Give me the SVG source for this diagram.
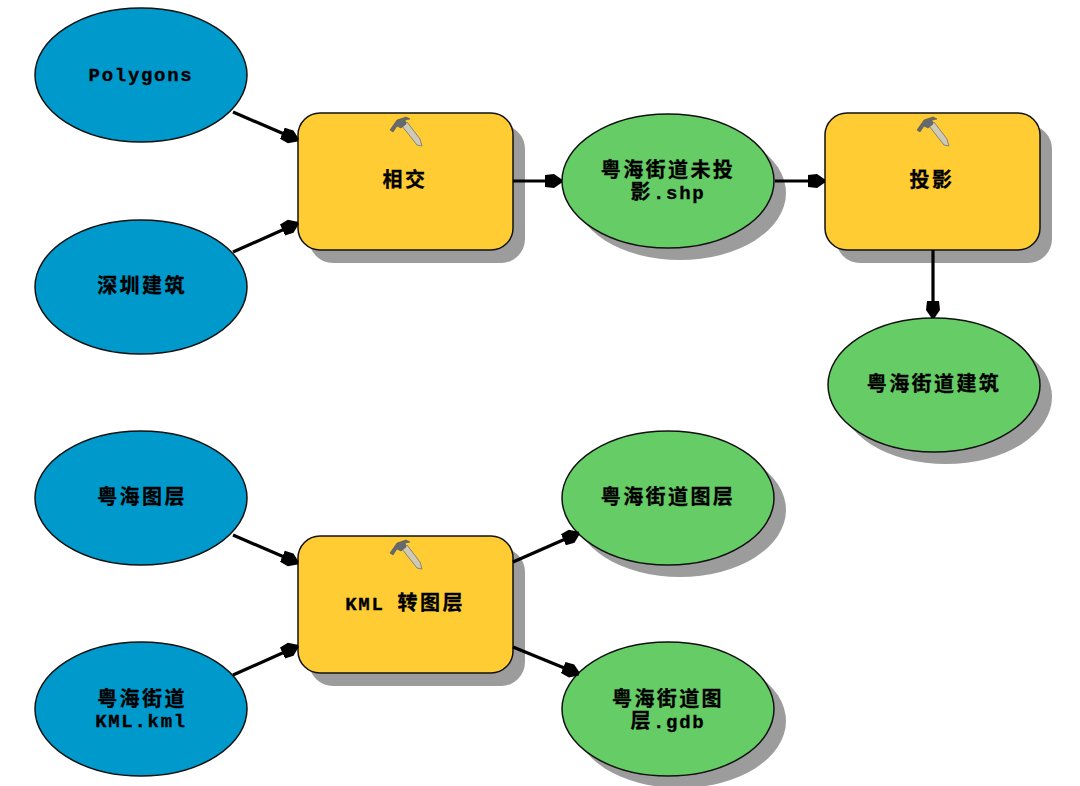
<svg xmlns="http://www.w3.org/2000/svg" xmlns:xlink="http://www.w3.org/1999/xlink" width="1080" height="786" viewBox="0 0 1080 786">
<style>
.in{fill:#0099cc;stroke:#111;stroke-width:1.5}
.out{fill:#66cc66;stroke:#111;stroke-width:1.5}
.tool{fill:#ffcc33;stroke:#111;stroke-width:1.5}
.sh{fill:#9c9c9c}
.c{stroke:#000;stroke-width:3.2;fill:none;marker-end:url(#a)}
text{font-family:"Liberation Mono","Noto Sans CJK SC",monospace;font-weight:700;text-anchor:middle;fill:#000;stroke:#000;stroke-width:.3}
.zh{font-family:"Noto Sans CJK SC",sans-serif;font-size:20px;letter-spacing:2.4px}
.la{font-size:19px;letter-spacing:1.7px}
</style>
<defs>
<marker id="a" markerUnits="userSpaceOnUse" markerWidth="20" markerHeight="18" refX="17" refY="9" orient="auto"><path d="M0 3L9 2L17 7.5V10.5L9 16L0 15Z" fill="#000"/></marker>
<g id="h">
<path d="M12 10L17 6L30 23L32 30L27 29Z" fill="#cfc9b6" stroke="#85857a" stroke-width="1"/>
<path d="M0 14L7 4L16 1L20 3L15 4L16 8L11 12L7 10L3 16Z" fill="#666a6e" stroke="#505356" stroke-width=".6"/>
</g>
</defs>
<g id="n1"><ellipse class="in" cx="141" cy="75" rx="106" ry="67"/><text class="la" x="141" y="81">Polygons</text></g>
<g id="n2"><ellipse class="in" cx="141" cy="287" rx="106" ry="67"/><text class="zh" x="142" y="293">深圳建筑</text></g>
<g id="n3"><ellipse class="in" cx="141" cy="498" rx="106" ry="67"/><text class="zh" x="142" y="504">粤海图层</text></g>
<g id="n4"><ellipse class="in" cx="141" cy="709" rx="106" ry="67"/><text x="142" y="706"><tspan class="zh">粤海街道</tspan><tspan class="la" x="141" y="727">KML.kml</tspan></text></g>
<g id="n5"><rect class="sh" x="309" y="125" width="216" height="138" rx="24"/><rect class="tool" x="298" y="113" width="215" height="137" rx="22"/><use xlink:href="#h" href="#h" x="390" y="116"/><text class="zh" x="405" y="187">相交</text></g>
<g id="n6"><ellipse class="sh" cx="680" cy="193" rx="106" ry="67"/><ellipse class="out" cx="668" cy="181" rx="106" ry="67"/><text x="668" y="177"><tspan class="zh">粤海街道未投</tspan><tspan class="zh" x="668" y="199">影</tspan><tspan class="la">.shp</tspan></text></g>
<g id="n7"><rect class="sh" x="836" y="125" width="216" height="138" rx="24"/><rect class="tool" x="825" y="113" width="215" height="137" rx="22"/><use xlink:href="#h" href="#h" x="917" y="116"/><text class="zh" x="932" y="187">投影</text></g>
<g id="n8"><ellipse class="sh" cx="946" cy="397" rx="106" ry="67"/><ellipse class="out" cx="934" cy="385" rx="106" ry="67"/><text class="zh" x="934" y="391">粤海街道建筑</text></g>
<g id="n9"><ellipse class="sh" cx="680" cy="510" rx="106" ry="67"/><ellipse class="out" cx="668" cy="498" rx="106" ry="67"/><text class="zh" x="668" y="504">粤海街道图层</text></g>
<g id="n10"><rect class="sh" x="309" y="548" width="216" height="138" rx="24"/><rect class="tool" x="298" y="536" width="215" height="137" rx="22"/><use xlink:href="#h" href="#h" x="390" y="539"/><text x="405" y="610"><tspan class="la">KML </tspan><tspan class="zh">转图层</tspan></text></g>
<g id="n11"><ellipse class="sh" cx="680" cy="721" rx="106" ry="67"/><ellipse class="out" cx="668" cy="709" rx="106" ry="67"/><text x="668" y="706"><tspan class="zh">粤海街道图</tspan><tspan class="zh" x="668" y="728">层</tspan><tspan class="la">.gdb</tspan></text></g>
<g id="connectors">
<path class="c" d="M233 112L298 140"/>
<path class="c" d="M233 252L298 223"/>
<path class="c" d="M513 181H562"/>
<path class="c" d="M775 181H825"/>
<path class="c" d="M933 250V318"/>
<path class="c" d="M233 535L298 563"/>
<path class="c" d="M233 675L298 646"/>
<path class="c" d="M513 562L579 533"/>
<path class="c" d="M513 647L579 674"/>
</g>
</svg>
